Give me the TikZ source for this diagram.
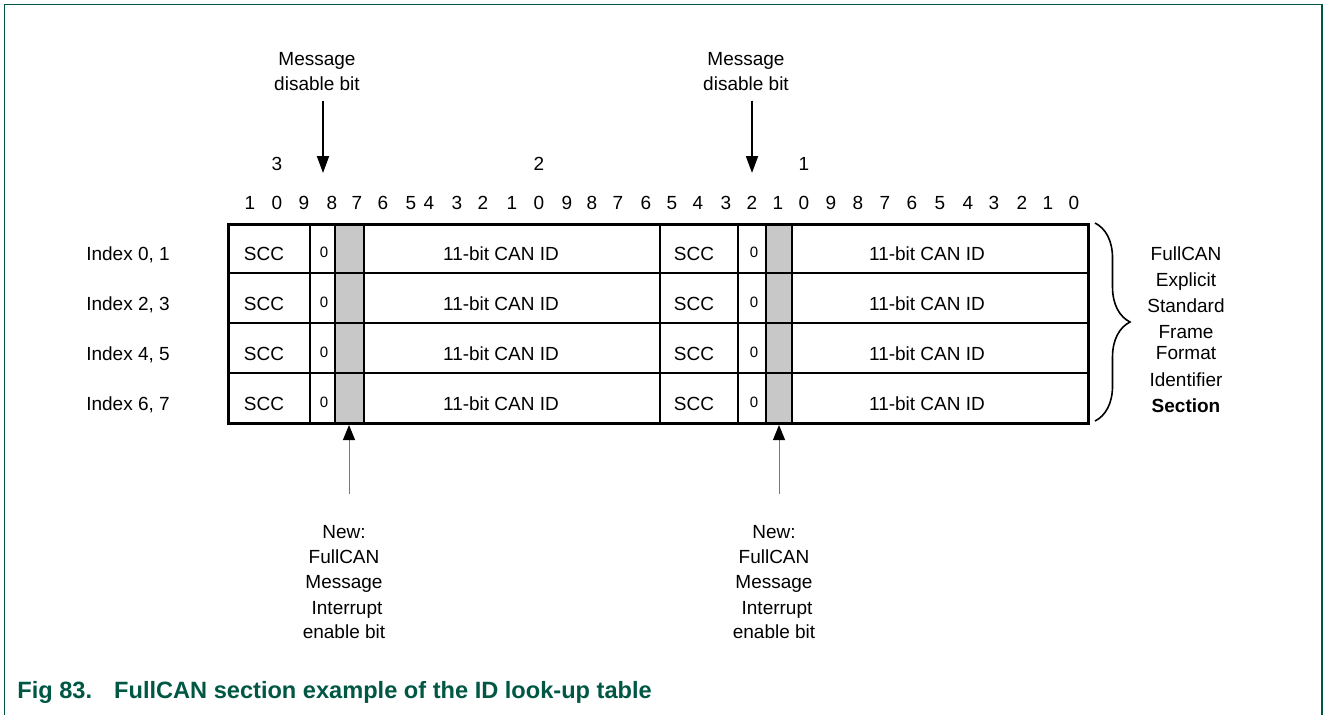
\documentclass[tikz,border=0pt]{standalone}
\usepackage{fontspec}
\setmainfont{Liberation Sans}
\usetikzlibrary{arrows.meta,decorations.pathreplacing}
\definecolor{figgreen}{RGB}{0,87,68}
\definecolor{bitgray}{RGB}{200,200,200}
\definecolor{linegray}{RGB}{120,120,120}
\tikzset{
  lbl/.style={inner sep=0pt, anchor=base, font=\fontsize{9.5}{11}\selectfont},
  zerobit/.style={lbl, font=\fontsize{7.5}{9}\selectfont},
  tablerule/.style={line width=1.5pt},
  rowrule/.style={line width=1.4pt},
  cellrule/.style={line width=1.1pt},
  downarrow/.style={-{Triangle[length=8.5pt,width=6pt]}, line width=1pt,
                    shorten <=5pt},
  uparrow/.style={-{Triangle[length=7.5pt,width=6pt,color=black]},
                  draw=linegray, line width=0.5pt, shorten <=15.5pt},
  sectbrace/.style={decorate, decoration={brace, amplitude=17.5pt},
                    line width=0.8pt},
  figcaption/.style={inner sep=0pt, anchor=base west, text=figgreen,
                     font=\fontsize{11.8}{13}\selectfont\bfseries},
}

\begin{document}
\begin{tikzpicture}[x=0.5pt, y=-0.5pt]
\useasboundingbox (0,0) rectangle (1325,714);
% figure frame, open at the bottom
\draw[figgreen, line width=0.8pt] (4.5,720) -- (4.5,4.5) -- (1322,4.5) -- (1322,720);
% interrupt enable bits (shaded) and table grid
\fill[bitgray] (335,224) rectangle (364,423);
\fill[bitgray] (766,224) rectangle (792,423);
\foreach \x in {310,335,364,660,738,766,792}
  \draw[cellrule] (\x,224) -- (\x,423);
\foreach \y in {273,323,373}
  \draw[rowrule] (228,\y) -- (1088,\y);
\draw[tablerule] (228,224) rectangle (1088,423);
% bit numbers
\foreach \x/\d in {250/1,277/0,304/9,332/8,357/7,383/6,411/5,429/4,457/3,483/2,
                   512/1,539/0,567/9,592/8,618/7,646/6,672/5,698/4,726/3,752/2,
                   778/1,804/0,831/9,858/8,885/7,912/6,940/5,968/4,994/3,1022/2,
                   1048/1,1074/0}
  \node[lbl] (bit-\x) at (\x,209) {\d};
\foreach \x/\d in {277/3,539/2,804/1}
  \node[lbl] (ten-\d) at (\x,170) {\d};
% rows of the table
\foreach \r/\y in {0/260,1/310,2/360,3/410} {
  \pgfmathtruncatemacro{\ia}{2*\r}
  \pgfmathtruncatemacro{\ib}{2*\r+1}
  \node[lbl] (idx-\r) at (128,\y) {Index \ia, \ib};
  \node[lbl] (scca-\r) at (264,\y) {SCC};
  \node[zerobit] (dsa-\r) at (324,\y-3) {0};
  \node[lbl] (ida-\r) at (501,\y) {11-bit CAN ID};
  \node[lbl] (sccb-\r) at (694,\y) {SCC};
  \node[zerobit] (dsb-\r) at (754,\y-3) {0};
  \node[lbl] (idb-\r) at (927,\y) {11-bit CAN ID};
}
% message disable bit
\foreach \n/\x/\t in {a/317/323, b/746/752} {
  \node[lbl] (msg-\n) at (\x,65) {Message};
  \node[lbl] (dis-\n) at (\x,90) {disable bit};
  \coordinate (dtip-\n) at (\t,173);
  \draw[downarrow] (dis-\n.south -| dtip-\n) -- (dtip-\n);
}
% FullCAN message interrupt enable bit
\foreach \n/\x/\t in {a/344/349, b/774/779} {
  \node[lbl] (new-\n) at (\x,538) {New:};
  \node[lbl] (fc-\n) at (\x,563) {FullCAN};
  \node[lbl] (im-\n) at (\x,588) {Message};
  \node[lbl] (int-\n) at (\x+3,614) {Interrupt};
  \node[lbl] (en-\n) at (\x,638) {enable bit};
  \coordinate (utip-\n) at (\t,425);
  \draw[uparrow] (new-\n.north -| utip-\n) -- (utip-\n);
}
% section brace and its name
\draw[sectbrace] (1095,223) -- (1095,421);
\foreach \w/\y in {FullCAN/260,Explicit/286,Standard/312,Frame/338,Format/359,
                   Identifier/386}
  \node[lbl] (sect-\w) at (1186,\y) {\w};
\node[lbl, font=\fontsize{9.5}{11}\selectfont\bfseries] (sect-bold) at (1186,412) {Section};
% caption
\node[figcaption] (caption) at (17,698)
  {Fig 83.\hspace{11pt}FullCAN section example of the ID look-up table};
\end{tikzpicture}
\end{document}
